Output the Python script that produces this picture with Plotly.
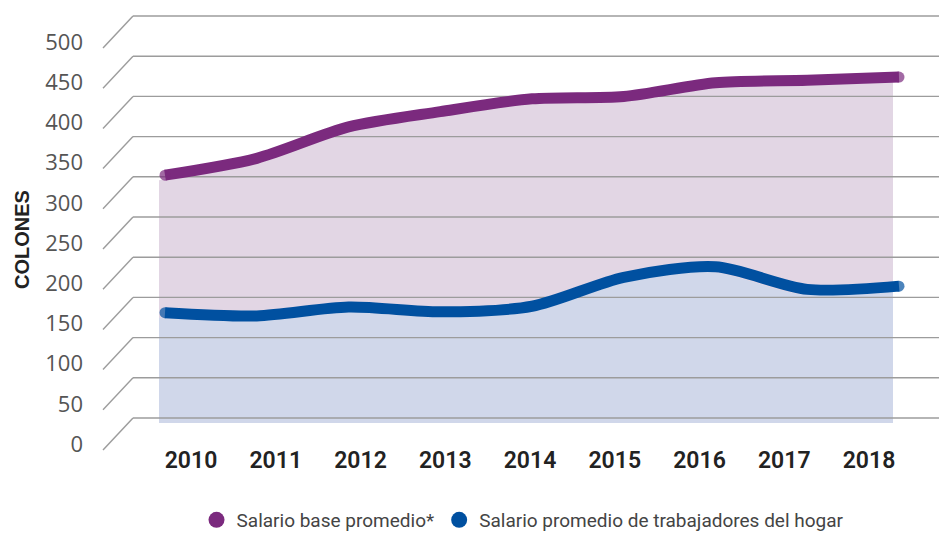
import plotly.graph_objects as go

years = [2010, 2011, 2012, 2013, 2014, 2015, 2016, 2017, 2018]
salario_base = [302, 323, 362, 381, 397, 400, 417, 420, 424]
salario_hogar = [131, 127, 138, 132, 139, 175, 188, 160, 164]
y_ticks = [0, 50, 100, 150, 200, 250, 300, 350, 400, 450, 500]
series_names = ["Salario base promedio*", "Salario promedio de trabajadores del hogar"]

PURPLE = "#7b2a7e"
BLUE = "#0050a0"
PURPLE_FILL = "#e2d6e4"
BLUE_FILL = "#d0d7ea"
GRID = "#9c9c9c"

# pixel geometry helpers
W, H = 939, 533
L, R, T, B = 133, 0, 12, 107
px_year = 91.75
px_unit = 0.804
x_line_range = [2010 - 32 / px_year, 2018 + 40 / px_year]
y_line_range = [-8 / px_unit, 500 + 4 / px_unit]
x_fill_range = [v + 6 / px_year for v in x_line_range]
y_fill_range = [v + 5 / px_unit for v in y_line_range]
lab_step = 84.75
x_lab_range = [2010 - 58 / lab_step, 2018 + 70 / lab_step]


def y2_to_paper(v):
    return (v - y_line_range[0]) / (y_line_range[1] - y_line_range[0])


fig = go.Figure()

# fills (base subplot, offset for depth)
for vals, col in [(salario_base, PURPLE_FILL), (salario_hogar, BLUE_FILL)]:
    fig.add_trace(go.Scatter(
        x=years, y=vals, mode="lines", line=dict(width=0, shape="spline", smoothing=0.8),
        fill="tozeroy", fillcolor=col, showlegend=False, hoverinfo="skip",
        xaxis="x", yaxis="y"))

# horizontal gridlines drawn above fills, below lines
gx, gy = [], []
for v in y_ticks:
    gx += [x_line_range[0], x_line_range[1], None]
    gy += [v, v, None]
fig.add_trace(go.Scatter(x=gx, y=gy, mode="lines", line=dict(color=GRID, width=1.4),
                         showlegend=False, hoverinfo="skip", xaxis="x2", yaxis="y2"))

# lines
n = len(years)
for vals, col in [(salario_base, PURPLE), (salario_hogar, BLUE)]:
    fig.add_trace(go.Scatter(
        x=years, y=vals, mode="lines+markers",
        line=dict(color=col, width=11, shape="spline", smoothing=0.8),
        marker=dict(color=col, size=[11] + [0] * (n - 2) + [11], line=dict(width=0)),
        showlegend=False, xaxis="x2", yaxis="y2"))

# legend entries
for name, col in zip(series_names, [PURPLE, BLUE]):
    fig.add_trace(go.Scatter(x=[None], y=[None], mode="markers", name=name,
                             marker=dict(color=col, size=22), xaxis="x2", yaxis="y2"))

# invisible trace to activate the label axis
fig.add_trace(go.Scatter(x=[years[0]], y=[0], mode="markers", marker=dict(opacity=0),
                         showlegend=False, hoverinfo="skip", xaxis="x3", yaxis="y2"))

# slanted grid ends (perspective)
for v in y_ticks:
    fig.add_shape(type="line", xref="paper", xsizemode="pixel", xanchor=0, x0=-30, x1=0,
                  yref="paper", ysizemode="pixel", yanchor=y2_to_paper(v), y0=-32, y1=0,
                  line=dict(color=GRID, width=1.4))

fig.add_annotation(text="<b>COLONES</b>", textangle=-90, xref="paper", yref="paper",
                   x=-(133 - 22) / 806, y=(426 - 240) / 414, showarrow=False,
                   font=dict(family="Liberation Sans", size=20, color="#222222"),
                   xanchor="center", yanchor="middle")

fig.update_layout(
    width=W, height=H, margin=dict(l=L, r=R, t=T, b=B),
    paper_bgcolor="white", plot_bgcolor="white",
    xaxis=dict(range=x_fill_range, visible=False, fixedrange=True),
    yaxis=dict(range=y_fill_range, visible=False, fixedrange=True),
    xaxis2=dict(range=x_line_range, overlaying="x", visible=False),
    yaxis2=dict(range=y_line_range, overlaying="y", side="left", showgrid=False,
                zeroline=False, showline=False, ticks="", tickvals=y_ticks,
                ticktext=[str(v) for v in y_ticks],
                ticklabelshift=26, ticklabelstandoff=49,
                tickfont=dict(family="Open Sans", size=22, color="#555555")),
    xaxis3=dict(range=x_lab_range, overlaying="x", side="bottom", anchor="y2",
                showgrid=False, zeroline=False, showline=False, ticks="",
                tickvals=years, ticktext=[str(v) for v in years],
                ticklabelstandoff=18,
                tickfont=dict(family="Roboto", size=23, color="#222222", weight=600)),
    showlegend=True,
    legend=dict(orientation="h", xref="container", yref="container", x=0.557, y=13 / 533,
                xanchor="center", yanchor="middle", itemsizing="trace",
                font=dict(family="Roboto", size=19, color="#444444"), itemwidth=30),
)

fig.write_html("out.html", config={"displayModeBar": False},
               post_script="document.body.style.margin='0';")
